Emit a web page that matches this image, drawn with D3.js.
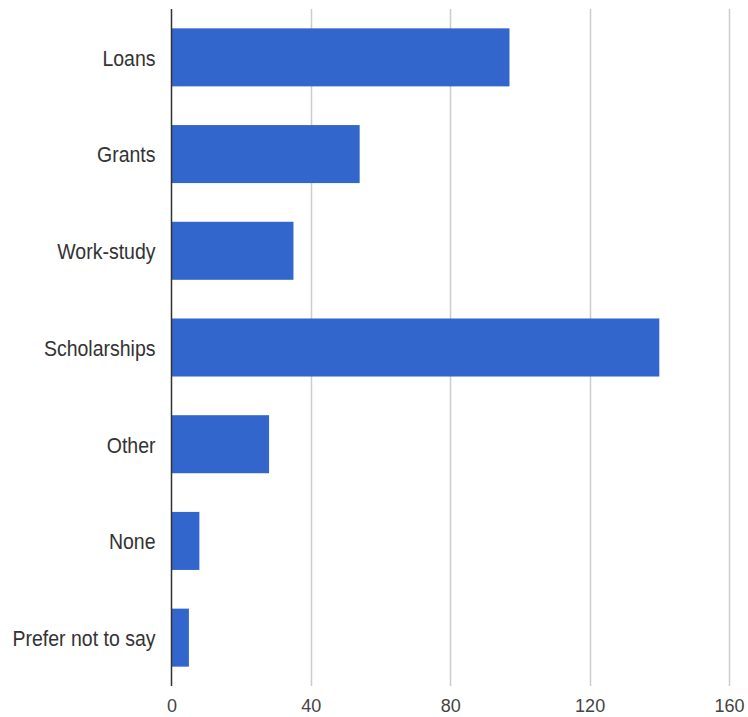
<!DOCTYPE html>
<html>
<head>
<meta charset="utf-8">
<script src="https://cdn.jsdelivr.net/npm/d3@7"></script>
<style>
  body { margin: 0; background: #fff; }
  svg text { font-family: "Liberation Sans", Arial, sans-serif; }
</style>
</head>
<body>
<svg id="chart" width="748" height="717"></svg>
<script>
// Forms of financial aid and number of respondents
const categories = ["Loans", "Grants", "Work-study", "Scholarships", "Other", "None", "Prefer not to say"];
const counts = [97, 54, 35, 140, 28, 8, 5];
const tickValues = [0, 40, 80, 120, 160];

const svg = d3.select("#chart");
const margin = { top: 9, right: 19, bottom: 31, left: 171.5 };
const W = 748, H = 717;
const textStretch = 1.15; // slightly tall lettering for category names

const x = d3.scaleLinear().domain([0, 160]).range([margin.left, W - margin.right]);
const y = d3.scaleBand().domain(categories).range([margin.top, H - margin.bottom]).paddingInner(0.4).paddingOuter(0.2);

// vertical gridlines
svg.append("g")
  .selectAll("line")
  .data(tickValues.filter(d => d !== 0))
  .join("line")
  .attr("x1", d => Math.round(x(d)) + 0.5)
  .attr("x2", d => Math.round(x(d)) + 0.5)
  .attr("y1", margin.top)
  .attr("y2", H - margin.bottom)
  .attr("stroke", "#cccccc")
  .attr("stroke-width", 1.5);

// bars
svg.append("g")
  .selectAll("rect")
  .data(categories)
  .join("rect")
  .attr("x", x(0))
  .attr("y", d => y(d))
  .attr("width", (d, i) => x(counts[i]) - x(0))
  .attr("height", y.bandwidth())
  .attr("fill", "#3366cc");

// baseline
svg.append("line")
  .attr("x1", x(0)).attr("x2", x(0))
  .attr("y1", margin.top).attr("y2", H - margin.bottom)
  .attr("stroke", "#333333")
  .attr("stroke-width", 1.5);

// category labels
const yAxis = d3.axisLeft(y).tickSize(0).tickPadding(16);
svg.append("g")
  .attr("transform", `translate(${x(0)},0)`)
  .call(yAxis)
  .call(g => g.select(".domain").remove())
  .call(g => g.selectAll("text")
    .attr("font-size", 19.5)
    .attr("fill", "#333333")
    .attr("transform", `scale(1,${textStretch})`)
    .attr("y", 1));

// value axis labels
const xAxis = d3.axisBottom(x).tickValues(tickValues).tickSize(0).tickPadding(13);
svg.append("g")
  .attr("transform", `translate(0,${H - margin.bottom})`)
  .call(xAxis)
  .call(g => g.select(".domain").remove())
  .call(g => g.selectAll("text")
    .attr("font-size", 18)
    .attr("fill", "#444444"));
</script>
</body>
</html>
